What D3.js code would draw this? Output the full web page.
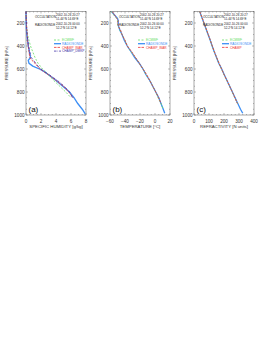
<!DOCTYPE html>
<html><head><meta charset="utf-8">
<script src="https://cdn.jsdelivr.net/npm/d3@7"></script>
<style>body{margin:0;background:#fff}svg{display:block}text{font-family:"Liberation Sans",Arial,sans-serif}</style>
</head><body>
<script>
// ---------- data ----------
const yTicks = [200,400,600,800,1000];
// (a) specific humidity [g/kg]
const qP      = [100,150,200,250,300,350,400,450,500,525,550,575,600,625,650,700,750,800,850,900,950,990];
const qSonde  = [0.0,0.01,0.03,0.05,0.1,0.2,0.3,0.45,0.6,0.3,0.4,0.9,1.8,2.5,3.0,4.0,4.9,5.8,6.4,6.9,7.5,7.9];
const qEcmwf  = [0.0,0.02,0.05,0.1,0.2,0.4,0.6,0.9,1.2,1.4,1.6,1.9,2.2,2.6,3.0,3.7,4.5,5.3,6.0];
const qWar    = [0.0,0.02,0.05,0.1,0.15,0.2,0.3,0.4,0.5,0.8,1.2,1.5,1.9,2.4,3.0,4.0,5.0,5.7,6.3];
const qDmkp   = [0.0,0.02,0.05,0.1,0.15,0.25,0.35,0.5,0.7,1.0,1.3,1.6,2.0,2.5,3.1,4.2,5.1,5.8,6.2];
const qTicks  = [0,2,4,6,8];
// (b) temperature [°C]
const tP      = [100,130,160,180,200,220,240,260,300,350,400,450,500,550,600,650,700,750,800,850,900,950,985];
const tSonde  = [-58,-54,-50,-49,-49,-49,-48,-47,-44,-41,-37,-32,-27,-21,-16,-12,-7,-3,1,5,8,11,13];
const tEcmwf  = [-58,-55,-51,-50,-50,-50,-48,-47,-44,-40,-37,-32,-26,-21,-16,-12,-7,-3,1,4,8,11];
const tWar    = [-57,-54,-51,-49,-50,-49,-48,-46,-44,-40,-37,-31,-26,-21,-16,-11,-7,-3,1,5,8];
const tTicks  = [-60,-40,-20,0,20];
// (c) refractivity [N units]
const nP      = [100,150,200,250,300,350,400,450,500,550,600,650,700,750,800,850,900,950,985];
const nSonde  = [38,52,66,80,94,108,121,135,150,165,185,202,220,238,256,274,292,310,325];
const nEcmwf  = [38,52,66,80,94,108,121,135,150,166,183,200,219,237,255,272,290];
const nWar    = [38,53,67,81,95,109,122,136,151,167,184,201,220,238,256,273,289];
const nTicks  = [0,100,200,300,400];

const occText = ["OCCULTATION","2002-10-26 20:27","51.44°N 14.69°E"];
const sondeText = ["RADIOSONDE","2002-10-26 00:00","52.2°N 14.12°E"];

const C = {ecmwf:"#66dd66", sonde:"#3d8ff5", war:"#ee3333", dmkp:"#4433aa"};

const panels = [
  {x0:26, x1:86, dom:[0,8], ticks:qTicks, minor:0.5, p:qP, label:"(a)", title:"SPECIFIC HUMIDITY [g/kg]",
   series:[{name:"ECMWF",v:qEcmwf,c:C.ecmwf,d:"2,1.5",w:0.8},{name:"RADIOSONDE",v:qSonde,c:C.sonde,d:null,w:1.3},
           {name:"CHAMP_WAR",v:qWar,c:C.war,d:"2.5,1",w:0.8},{name:"CHAMP_DMKP",v:qDmkp,c:C.dmkp,d:"2.5,1,0.6,1",w:0.8}]},
  {x0:110, x1:170, dom:[-60,20], ticks:tTicks, minor:5, p:tP, label:"(b)", title:"TEMPERATURE [°C]",
   series:[{name:"ECMWF",v:tEcmwf,c:C.ecmwf,d:"2,1.5",w:0.8},{name:"RADIOSONDE",v:tSonde,c:C.sonde,d:null,w:1.3},
           {name:"CHAMP_WAR",v:tWar,c:C.war,d:"2.5,1",w:0.8}]},
  {x0:194, x1:254, dom:[0,400], ticks:nTicks, minor:25, p:nP, label:"(c)", title:"REFRACTIVITY [N units]",
   series:[{name:"ECMWF",v:nEcmwf,c:C.ecmwf,d:"2,1.5",w:0.8},{name:"RADIOSONDE",v:nSonde,c:C.sonde,d:null,w:1.3},
           {name:"CHAMP",v:nWar,c:C.war,d:"2.5,1",w:0.8}]}
];

const W=270,H=349, yTop=11.5, yBot=115;
const svg = d3.select("body").append("svg").attr("width",W).attr("height",H);
const y = d3.scaleLinear().domain([100,1000]).range([yTop,yBot]);
const axCol="#555";

panels.forEach(P=>{
  const x = d3.scaleLinear().domain(P.dom).range([P.x0,P.x1]);
  const g = svg.append("g");
  g.append("rect").attr("x",P.x0).attr("y",yTop).attr("width",P.x1-P.x0).attr("height",yBot-yTop)
    .attr("fill","none").attr("stroke",axCol).attr("stroke-width",0.5);
  const minorX = d3.range(P.dom[0],P.dom[1]+1e-9,P.minor);
  minorX.forEach(v=>{
    const major = P.ticks.includes(+v.toFixed(6));
    const L = major?2:1;
    g.append("line").attr("x1",x(v)).attr("x2",x(v)).attr("y1",yBot).attr("y2",yBot-L).attr("stroke",axCol).attr("stroke-width",0.4);
    g.append("line").attr("x1",x(v)).attr("x2",x(v)).attr("y1",yTop).attr("y2",yTop+L).attr("stroke",axCol).attr("stroke-width",0.4);
  });
  P.ticks.forEach(v=>{
    g.append("text").attr("x",x(v)).attr("y",yBot+7.5).attr("text-anchor","middle")
      .attr("font-size",4.6).attr("fill","#333").text(v<0? "\u2212"+Math.abs(v): v);
  });
  d3.range(100,1001,50).forEach(v=>{
    const major = v%200===0;
    const L = major?2:1;
    g.append("line").attr("x1",P.x0).attr("x2",P.x0+L).attr("y1",y(v)).attr("y2",y(v)).attr("stroke",axCol).attr("stroke-width",0.4);
    g.append("line").attr("x1",P.x1).attr("x2",P.x1-L).attr("y1",y(v)).attr("y2",y(v)).attr("stroke",axCol).attr("stroke-width",0.4);
  });
  yTicks.forEach(v=>{
    g.append("text").attr("x",P.x0-1.5).attr("y",y(v)+1.6).attr("text-anchor","end")
      .attr("font-size",4.6).attr("fill","#333").text(v);
  });
  g.append("text").attr("x",(P.x0+P.x1)/2).attr("y",yBot+12.5).attr("text-anchor","middle")
    .attr("font-size",4.3).attr("fill","#333").text(P.title);
  g.append("text").attr("transform",`translate(${P.x0-18.5},${(yTop+yBot)/2}) rotate(-90)`)
    .attr("text-anchor","middle").attr("font-size",4.2).attr("fill","#333").text("PRESSURE [hPa]");
  const line = d3.line().x(d=>x(d[0])).y(d=>y(d[1])).curve(d3.curveLinear);
  [1,0,2,3].forEach(i=>{
    const s=P.series[i]; if(!s) return;
    const pts = s.v.map((v,k)=>[v,P.p[k]]);
    g.append("path").attr("d",line(pts)).attr("fill","none").attr("stroke",s.c)
      .attr("stroke-width",s.w).attr("stroke-dasharray",s.d);
  });
  const ax = P.x0+9, dx = P.x0+30;
  g.append("text").attr("x",ax).attr("y",17.5).attr("font-size",3).attr("fill","#222").text(occText[0]);
  g.append("text").attr("x",dx).attr("y",16).attr("font-size",3).attr("fill","#222").text(occText[1]);
  g.append("text").attr("x",dx).attr("y",20).attr("font-size",3).attr("fill","#222").text(occText[2]);
  g.append("text").attr("x",ax).attr("y",26).attr("font-size",3).attr("fill","#222").text(sondeText[0]);
  g.append("text").attr("x",dx).attr("y",24.5).attr("font-size",3).attr("fill","#222").text(sondeText[1]);
  g.append("text").attr("x",dx).attr("y",28.5).attr("font-size",3).attr("fill","#222").text(sondeText[2]);
  P.series.forEach((s,i)=>{
    const ly = 40 + i*3.7;
    g.append("line").attr("x1",P.x0+28).attr("x2",P.x0+35).attr("y1",ly).attr("y2",ly)
      .attr("stroke",s.c).attr("stroke-width",s.w).attr("stroke-dasharray",s.d);
    g.append("text").attr("x",P.x0+36).attr("y",ly+1.1).attr("font-size",3.2).attr("fill",s.c).text(s.name);
  });
  g.append("text").attr("x",P.x0+2.5).attr("y",yBot-3).attr("font-size",8).attr("fill","#111").text(P.label);
});
</script>
</body></html>
